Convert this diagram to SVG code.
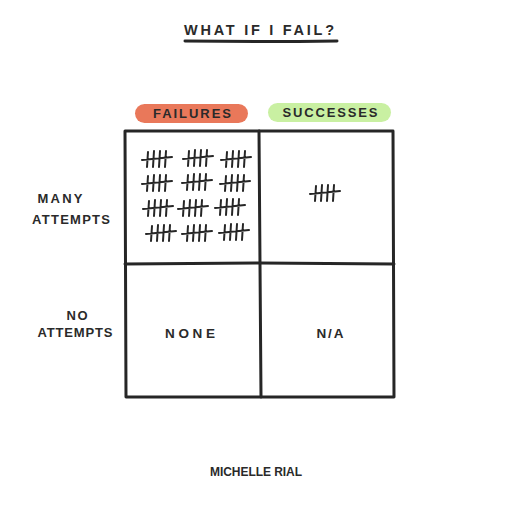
<svg xmlns="http://www.w3.org/2000/svg" width="512" height="512" viewBox="0 0 512 512">
<style>
.t{font-family:"Liberation Sans","DejaVu Sans",sans-serif;font-weight:bold;fill:#2a2a2a;text-anchor:middle;}
.ln{stroke:#262626;stroke-width:3;fill:none;stroke-linecap:round;stroke-linejoin:round;}
.ty{stroke:#262626;stroke-width:2;fill:none;stroke-linecap:round;}
</style>
<defs>
<g id="tally">
<path class="ty" d="M-9 -7 L-10 8 M-3 -8 L-4 8 M3 -8 L2 8 M9 -8 L8 8 M-15 1 L15 -2"/>
</g>
</defs>
<rect width="512" height="512" fill="#ffffff"/>
<g id="title">
<text class="t" x="259" y="35" font-size="14.5" textLength="150" lengthAdjust="spacing">WHAT IF I FAIL?</text>
<path class="ln" d="M185 41 Q260 42 337 41" stroke-width="2.5"/>
</g>
<g id="col-failures">
<rect x="135" y="104" width="113" height="19" rx="9.5" fill="#E9785A"/>
<text class="t" x="192" y="118" font-size="13" textLength="78" lengthAdjust="spacing">FAILURES</text>
</g>
<g id="col-successes">
<rect x="268" y="103" width="123" height="19" rx="9.5" fill="#C9F0A2"/>
<text class="t" x="330" y="117" font-size="13" textLength="95" lengthAdjust="spacing">SUCCESSES</text>
</g>
<g id="row-many">
<text class="t" x="60" y="203" font-size="13" textLength="45" lengthAdjust="spacing">MANY</text>
<text class="t" x="71" y="224" font-size="13" textLength="78" lengthAdjust="spacing">ATTEMPTS</text>
</g>
<g id="row-no">
<text class="t" x="77" y="320" font-size="13" textLength="21" lengthAdjust="spacing">NO</text>
<text class="t" x="75" y="337" font-size="13" textLength="75" lengthAdjust="spacing">ATTEMPTS</text>
</g>
<g id="grid">
<path class="ln" d="M125 131 L393 131 L394 397 L126 397 Z"/>
<path class="ln" d="M259 131 L260 264 L261 397"/>
<path class="ln" d="M125 264 L260 263 L394 264"/>
</g>
<g id="cell-failures-many">
<use href="#tally" x="157" y="159"/>
<use href="#tally" x="198" y="158"/>
<use href="#tally" x="236" y="159"/>
<use href="#tally" x="157" y="183"/>
<use href="#tally" x="197" y="182"/>
<use href="#tally" x="235" y="183"/>
<use href="#tally" x="158" y="208"/>
<use href="#tally" x="193" y="208"/>
<use href="#tally" x="230" y="207"/>
<use href="#tally" x="161" y="233"/>
<use href="#tally" x="197" y="233"/>
<use href="#tally" x="234" y="232"/>
</g>
<g id="cell-successes-many">
<use href="#tally" x="325" y="193"/>
</g>
<g id="cell-failures-no">
<text class="t" x="190" y="338" font-size="13.5" textLength="50" lengthAdjust="spacing">NONE</text>
</g>
<g id="cell-successes-no">
<text class="t" x="330" y="338" font-size="13.5" textLength="27" lengthAdjust="spacing">N/A</text>
</g>
<g id="credit">
<text class="t" x="256" y="476" font-size="12" textLength="92" lengthAdjust="spacing">MICHELLE RIAL</text>
</g>
</svg>
